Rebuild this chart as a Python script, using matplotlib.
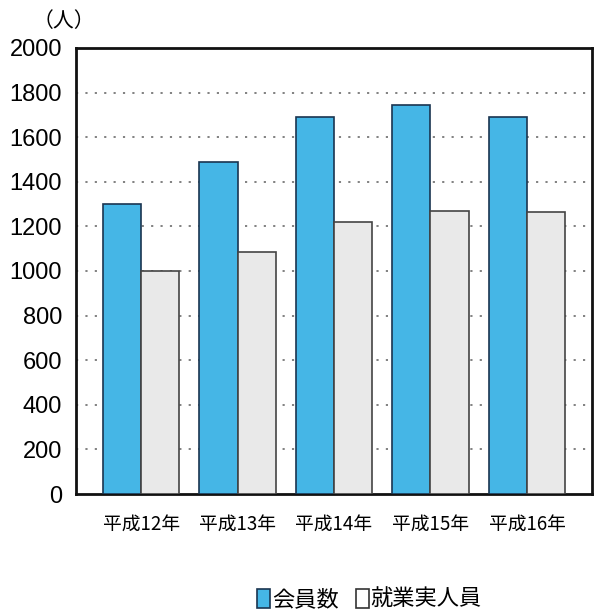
import matplotlib.pyplot as plt
import numpy as np
from matplotlib.patches import Patch

plt.rcParams['font.family'] = ['Liberation Sans', 'Noto Sans CJK JP', 'DejaVu Sans']

# data
years = ['平成12年', '平成13年', '平成14年', '平成15年', '平成16年']
members = [1300, 1490, 1690, 1745, 1690]      # 会員数
workers = [1000, 1085, 1220, 1270, 1265]      # 就業実人員
yticks = [0, 200, 400, 600, 800, 1000, 1200, 1400, 1600, 1800, 2000]

blue = '#45b6e6'
grey = '#e9e9e9'

fig = plt.figure(figsize=(6.06, 6.12), dpi=100)
ax = fig.add_axes([0.1254, 0.1928, 0.8516, 0.7288])

x = np.arange(len(years))
w = 0.395
ax.bar(x - w / 2, members, w, color=blue, edgecolor='#1a3550', linewidth=1.2, zorder=3)
ax.bar(x + w / 2, workers, w, color=grey, edgecolor='#444444', linewidth=1.2, zorder=3)

# dotted grid lines only between 0 and 2000
for v in yticks[1:-1]:
    ax.axhline(v, color='#777777', linestyle=(0, (1.2, 4)), linewidth=1.3, zorder=1)

ax.set_xlim(-0.675, len(years) - 1 + 0.675)
ax.set_ylim(0, 2000)
ax.set_yticks(yticks)
ax.set_yticklabels([str(v) for v in yticks], fontsize=17)
ax.set_xticks(x)
ax.set_xticklabels(years, fontsize=13.5, family=['Noto Sans CJK JP'])
ax.tick_params(axis='y', length=0, pad=10)
ax.tick_params(axis='x', length=0, pad=14)
for s in ax.spines.values():
    s.set_linewidth(2)
    s.set_color('#111111')

fig.text(0.105, 0.965, '（人）', fontsize=15, family=['Noto Sans CJK JP'],
         ha='center', va='center')

handles = [Patch(facecolor=blue, edgecolor='#1a3550', linewidth=1.2, label='会員数'),
           Patch(facecolor='white', edgecolor='#333333', linewidth=1.2, label='就業実人員')]
fig.legend(handles=handles, loc='center', bbox_to_anchor=(0.61, 0.02), ncol=2,
           frameon=False, handlelength=0.55, handleheight=0.9, handletextpad=0.1,
           columnspacing=0.8, prop={'family': 'Noto Sans CJK JP', 'size': 16})

fig.savefig('out.png', dpi=100)
